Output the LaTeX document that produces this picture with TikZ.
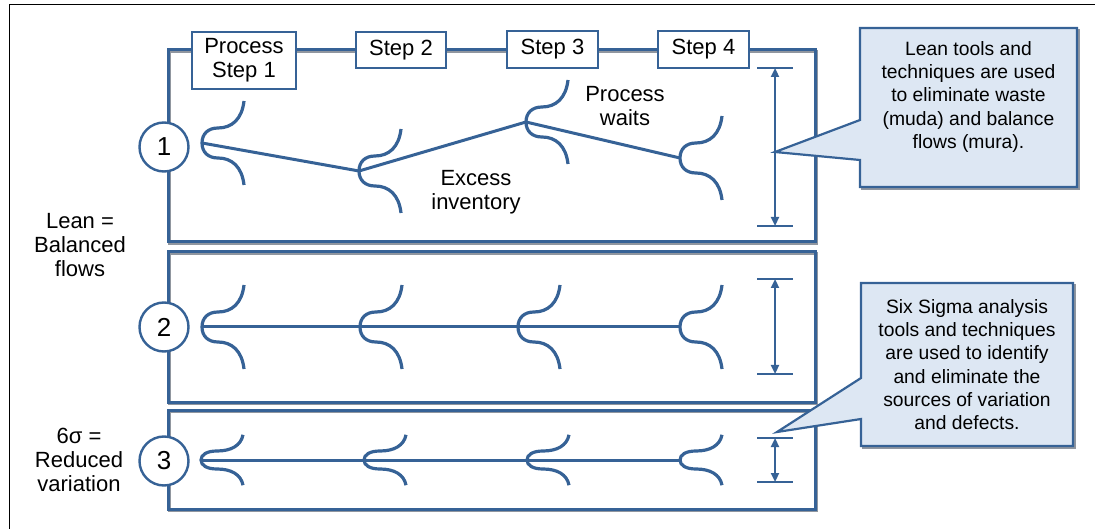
\documentclass[tikz,border=0pt]{standalone}
\usepackage{fontspec}
\setmainfont{Liberation Sans}
\usetikzlibrary{arrows.meta,calc}
\definecolor{lineblue}{RGB}{54,98,150}
\definecolor{calloutfill}{RGB}{221,231,243}
\definecolor{shadowgray}{RGB}{70,80,95}

\begin{document}
\begin{tikzpicture}[x=1pt,y=-1pt,
  big/.style={font=\fontsize{22}{24}\selectfont},
  small/.style={font=\fontsize{19.3}{23.3}\selectfont},
  panel/.style={draw=lineblue,line width=3pt},
  panelshadow/.style={draw=shadowgray!60,line width=3pt},
  stepbox/.style={big,draw=lineblue,line width=2.6pt,fill=white,inner sep=0pt,align=center},
  num/.style={font=\fontsize{26}{28}\selectfont,circle,draw=lineblue,line width=2.4pt,fill=white,minimum size=49pt,inner sep=0pt},
  lbl/.style={big,align=center,inner sep=0pt},
  forkline/.style={draw=lineblue,line width=3.2pt},
  flow/.style={draw=lineblue,line width=3pt},
  dimbar/.style={draw=lineblue,line width=2.2pt},
  dimarrow/.style={draw=lineblue,line width=2.2pt,{Triangle[length=9pt,width=8pt]}-{Triangle[length=9pt,width=8pt]}},
  callout/.style={draw=lineblue,line width=2.2pt,fill=calloutfill,line join=miter},
  calloutshadow/.style={draw=shadowgray!60,line width=2.2pt,fill=shadowgray!30},
  ctext/.style={small,align=center,inner sep=0pt},
  fork/.pic={\path[forkline] (42,-42) .. controls (40,-24) and (30,-15) .. (16,-15)
      .. controls (6,-15) and (0,-9) .. (0,0)
      .. controls (0,9) and (6,15) .. (16,15)
      .. controls (30,15) and (40,24) .. (42,42);}
]
\useasboundingbox (0,0) rectangle (1098,529);

% outer frame
\draw[black,line width=1pt] (9,529) -- (9,5) -- (1095,5);

% three panels with a light shadow
\foreach \t/\b in {50/242,252/402,410/509}{
  \draw[panelshadow] (169.5,\t+1.5) rectangle (816.5,\b+1.5);
  \draw[panel] (168,\t) rectangle (815,\b);
}

% process steps along the top edge
\node[stepbox,minimum width=104pt,minimum height=57pt] (s1) at (244,60.5) {Process\\Step 1};
\node[stepbox,minimum width=90pt,minimum height=36pt] (s2) at (401,50) {Step 2};
\node[stepbox,minimum width=91pt,minimum height=37pt] (s3) at (552.5,49.5) {Step 3};
\node[stepbox,minimum width=91pt,minimum height=37pt] (s4) at (703.5,49.5) {Step 4};

% panel numbers
\node[num] (n1) at (164,147) {1};
\node[num] (n2) at (164,327) {2};
\node[num] (n3) at (164,461) {3};

% row 1: unbalanced flow
\coordinate (f11) at (202,143);
\coordinate (f12) at (359,171);
\coordinate (f13) at (526,122);
\coordinate (f14) at (680,158);
\foreach \c in {f11,f12,f13,f14} \pic at (\c) {fork};
\draw[flow] (f11) -- (f12) -- (f13) -- (f14);

% row 2: balanced flow
\coordinate (f21) at (202,327);
\coordinate (f22) at (360,327);
\coordinate (f23) at (518,327);
\coordinate (f24) at (680,327);
\foreach \c in {f21,f22,f23,f24} \pic at (\c) {fork};
\draw[flow] (f21) -- (f22) -- (f23) -- (f24);

% row 3: reduced variation
\coordinate (f31) at (201,460);
\coordinate (f32) at (364,460);
\coordinate (f33) at (527,460);
\coordinate (f34) at (680,460);
\foreach \c in {f31,f32,f33,f34} \pic[yscale=0.6] at (\c) {fork};
\draw[flow] (f31) -- (f32) -- (f33) -- (f34);

% variation ranges
\coordinate (a1t) at (775,68);  \coordinate (a1b) at (775,226);
\coordinate (a2t) at (775,279); \coordinate (a2b) at (775,374);
\coordinate (a3t) at (775,438); \coordinate (a3b) at (775,482);
\foreach \p in {a1t,a1b,a2t,a2b,a3t,a3b}
  \draw[dimbar] ($(\p)+(-18,0)$) -- ($(\p)+(18,0)$);
\draw[dimarrow] (a1t) -- (a1b);
\draw[dimarrow] (a2t) -- (a2b);
\draw[dimarrow] (a3t) -- (a3b);
\coordinate (p1) at (775,152);
\coordinate (p2) at (777,432);

% flow annotations
\node[lbl] (excess) at (476,192) {Excess\\inventory};
\node[lbl] (waits) at (625,106) {Process\\waits};
\node[lbl] (lean) at (80,245) {Lean =\\Balanced\\flows};
\node[lbl] (sigma) at (79,460) {6σ =\\Reduced\\variation};

% callouts
\path[calloutshadow] (862,30) -- (1079,30) -- (1079,189) -- (862,189) -- cycle;
\path[callout] (860,28) -- (1077,28) -- (1077,187) -- (860,187) -- (860,160) -- (p1) -- (860,120) -- cycle;
\node[ctext] (leantools) at (968.5,97) {Lean tools and\\techniques are used\\to eliminate waste\\(muda) and balance\\flows (mura).};

\path[calloutshadow] (863,285) -- (1075,285) -- (1075,448) -- (863,448) -- cycle;
\path[callout] (861,283) -- (1073,283) -- (1073,446) -- (861,446) -- (861,419) -- (p2) -- (861,378) -- cycle;
\node[ctext] (sixsigma) at (967,364.5) {Six Sigma analysis\\tools and techniques\\are used to identify\\and eliminate the\\sources of variation\\and defects.};
\end{tikzpicture}
\end{document}
